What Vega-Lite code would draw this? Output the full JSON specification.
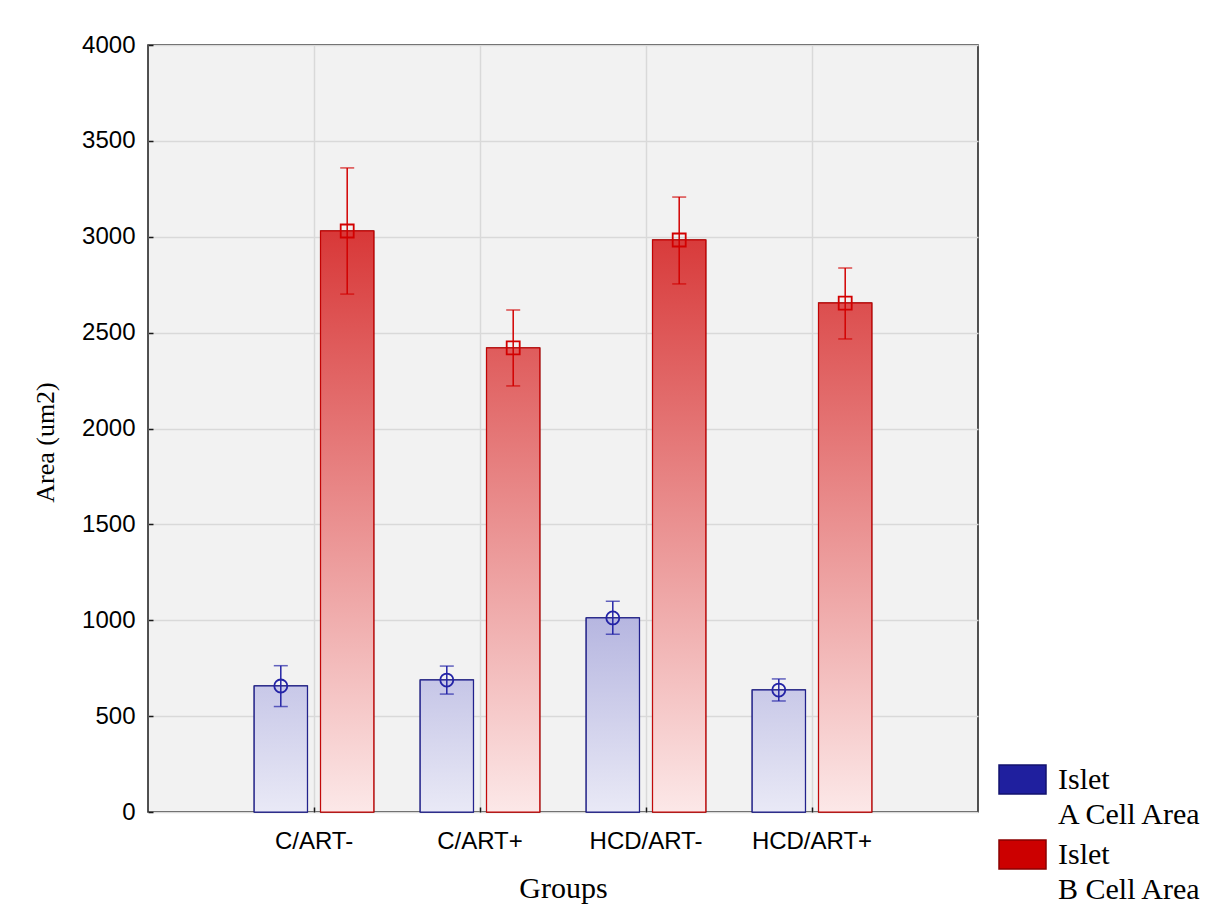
{
  "$schema": "https://vega.github.io/schema/vega-lite/v6.json",
  "width": 830,
  "height": 767,
  "autosize": "none",
  "padding": {"left": 148, "top": 45, "right": 235, "bottom": 103},
  "background": "white",
  "config": {
    "numberFormat": "d",
    "view": {"fill": "#f2f2f2", "stroke": "#1a1a1a", "strokeWidth": 1.5},
    "axis": {
      "labelFont": "Liberation Sans",
      "labelFontSize": 24,
      "labelColor": "#000000",
      "titleFont": "Liberation Serif",
      "titleFontSize": 30,
      "titleFontWeight": "normal",
      "titleColor": "#000000",
      "domain": false,
      "grid": true,
      "gridColor": "#d9d9d9",
      "gridWidth": 1.5,
      "tickColor": "#1a1a1a",
      "tickWidth": 1.5,
      "tickSize": -5
    },
    "axisY": {"labelPadding": 18, "titlePadding": 23, "tickCount": 8, "titleFontSize": 26, "titleY": 397},
    "axisX": {"labelPadding": 22, "titlePadding": 20, "labelAngle": 0, "bandPosition": 0.5}
  },
  "data": {
    "values": [
      {"group": "C/ART-", "series": "A", "mean": 657, "lo": 550, "hi": 763},
      {"group": "C/ART-", "series": "B", "mean": 3030, "lo": 2701, "hi": 3359},
      {"group": "C/ART+", "series": "A", "mean": 688, "lo": 615, "hi": 761},
      {"group": "C/ART+", "series": "B", "mean": 2420, "lo": 2222, "hi": 2618},
      {"group": "HCD/ART-", "series": "A", "mean": 1012, "lo": 927, "hi": 1099},
      {"group": "HCD/ART-", "series": "B", "mean": 2983, "lo": 2754, "hi": 3207},
      {"group": "HCD/ART+", "series": "A", "mean": 636, "lo": 579, "hi": 694},
      {"group": "HCD/ART+", "series": "B", "mean": 2654, "lo": 2467, "hi": 2837}
    ]
  },
  "encoding": {
    "x": {
      "field": "group",
      "type": "nominal",
      "sort": ["C/ART-", "C/ART+", "HCD/ART-", "HCD/ART+"],
      "scale": {"paddingInner": 0.2, "paddingOuter": 0.6},
      "title": "Groups"
    },
    "xOffset": {
      "field": "series",
      "type": "nominal",
      "sort": ["A", "B"],
      "scale": {"paddingInner": 0.2, "paddingOuter": 0.1}
    }
  },
  "layer": [
    {
      "mark": {"type": "bar", "strokeWidth": 1.5},
      "encoding": {
        "y": {"field": "mean", "type": "quantitative", "title": "Area (um2)", "scale": {"domain": [0, 4000], "nice": false}},
        "fill": {
          "field": "series",
          "type": "nominal",
          "scale": {"domain": ["A", "B"], "range": ["#1f1f9e", "#cc0000"]},
          "legend": {
            "title": null,
            "orient": "none",
            "legendX": 850,
            "legendY": 710,
            "symbolType": "M-1,-0.617H1V0.617H-1Z",
            "symbolSize": 2209,
            "symbolStrokeWidth": 1.5,
            "labelFont": "Liberation Serif",
            "labelFontSize": 30,
            "labelColor": "#000000",
            "labelOffset": 11,
            "labelLimit": 300,
            "rowPadding": -4,
            "padding": 0,
            "labelExpr": "datum.label === 'A' ? ['Islet', 'A Cell Area'] : ['Islet', 'B Cell Area']",
            "encode": {"labels": {"update": {"lineHeight": {"value": 35}}}}
          }
        },
        "stroke": {
          "field": "series",
          "type": "nominal",
          "scale": {"domain": ["A", "B"], "range": ["#12126e", "#8a0000"]},
          "legend": {
            "title": null,
            "orient": "none",
            "legendX": 850,
            "legendY": 710,
            "symbolType": "M-1,-0.617H1V0.617H-1Z",
            "symbolSize": 2209,
            "symbolStrokeWidth": 1.5,
            "labelFont": "Liberation Serif",
            "labelFontSize": 30,
            "labelColor": "#000000",
            "labelOffset": 11,
            "labelLimit": 300,
            "rowPadding": -4,
            "padding": 0,
            "labelExpr": "datum.label === 'A' ? ['Islet', 'A Cell Area'] : ['Islet', 'B Cell Area']",
            "encode": {"labels": {"update": {"lineHeight": {"value": 35}}}}
          }
        }
      }
    },
    {
      "mark": {"type": "bar", "strokeWidth": 1},
      "encoding": {
        "y": {"field": "mean", "type": "quantitative", "title": "Area (um2)"},
        "fill": {
          "condition": [
            {"test": "datum.series === 'A' && datum.group === 'C/ART-'", "value": {"gradient": "linear", "x1": 0, "y1": 1, "x2": 0, "y2": 0, "stops": [{"offset": 0, "color": "#e9e9f6"}, {"offset": 1, "color": "#c8c8e8"}]}},
            {"test": "datum.series === 'A' && datum.group === 'C/ART+'", "value": {"gradient": "linear", "x1": 0, "y1": 1, "x2": 0, "y2": 0, "stops": [{"offset": 0, "color": "#e9e9f6"}, {"offset": 1, "color": "#c6c6e7"}]}},
            {"test": "datum.series === 'A' && datum.group === 'HCD/ART-'", "value": {"gradient": "linear", "x1": 0, "y1": 1, "x2": 0, "y2": 0, "stops": [{"offset": 0, "color": "#e9e9f6"}, {"offset": 1, "color": "#b6b6e0"}]}},
            {"test": "datum.series === 'A' && datum.group === 'HCD/ART+'", "value": {"gradient": "linear", "x1": 0, "y1": 1, "x2": 0, "y2": 0, "stops": [{"offset": 0, "color": "#e9e9f6"}, {"offset": 1, "color": "#c9c9e8"}]}},
            {"test": "datum.series === 'B' && datum.group === 'C/ART-'", "value": {"gradient": "linear", "x1": 0, "y1": 1, "x2": 0, "y2": 0, "stops": [{"offset": 0, "color": "#fce8e8"}, {"offset": 1, "color": "#d83838"}]}},
            {"test": "datum.series === 'B' && datum.group === 'C/ART+'", "value": {"gradient": "linear", "x1": 0, "y1": 1, "x2": 0, "y2": 0, "stops": [{"offset": 0, "color": "#fce8e8"}, {"offset": 1, "color": "#df5c5c"}]}},
            {"test": "datum.series === 'B' && datum.group === 'HCD/ART-'", "value": {"gradient": "linear", "x1": 0, "y1": 1, "x2": 0, "y2": 0, "stops": [{"offset": 0, "color": "#fce8e8"}, {"offset": 1, "color": "#d83b3b"}]}}
          ],
          "value": {"gradient": "linear", "x1": 0, "y1": 1, "x2": 0, "y2": 0, "stops": [{"offset": 0, "color": "#fce8e8"}, {"offset": 1, "color": "#dc4e4e"}]}
        },
        "stroke": {"condition": {"test": "datum.series === 'A'", "value": "#1a1a8a"}, "value": "#c40000"}
      }
    },
    {
      "mark": {"type": "rule", "strokeWidth": 1.5},
      "encoding": {
        "y": {"field": "lo", "type": "quantitative", "title": "Area (um2)"},
        "y2": {"field": "hi"},
        "color": {"field": "series", "type": "nominal", "scale": {"domain": ["A", "B"], "range": ["#2323a6", "#d20000"]}, "legend": null}
      }
    },
    {
      "mark": {"type": "tick", "size": 14, "thickness": 1.5},
      "encoding": {
        "y": {"field": "hi", "type": "quantitative", "title": "Area (um2)"},
        "color": {"field": "series", "type": "nominal", "legend": null}
      }
    },
    {
      "mark": {"type": "tick", "size": 14, "thickness": 1.5},
      "encoding": {
        "y": {"field": "lo", "type": "quantitative", "title": "Area (um2)"},
        "color": {"field": "series", "type": "nominal", "legend": null}
      }
    },
    {
      "mark": {"type": "point", "filled": false, "size": 169, "strokeWidth": 1.8, "opacity": 1},
      "encoding": {
        "y": {"field": "mean", "type": "quantitative", "title": "Area (um2)"},
        "color": {"field": "series", "type": "nominal", "legend": null},
        "shape": {"condition": {"test": "datum.series === 'A'", "value": "circle"}, "value": "square"}
      }
    }
  ]
}
